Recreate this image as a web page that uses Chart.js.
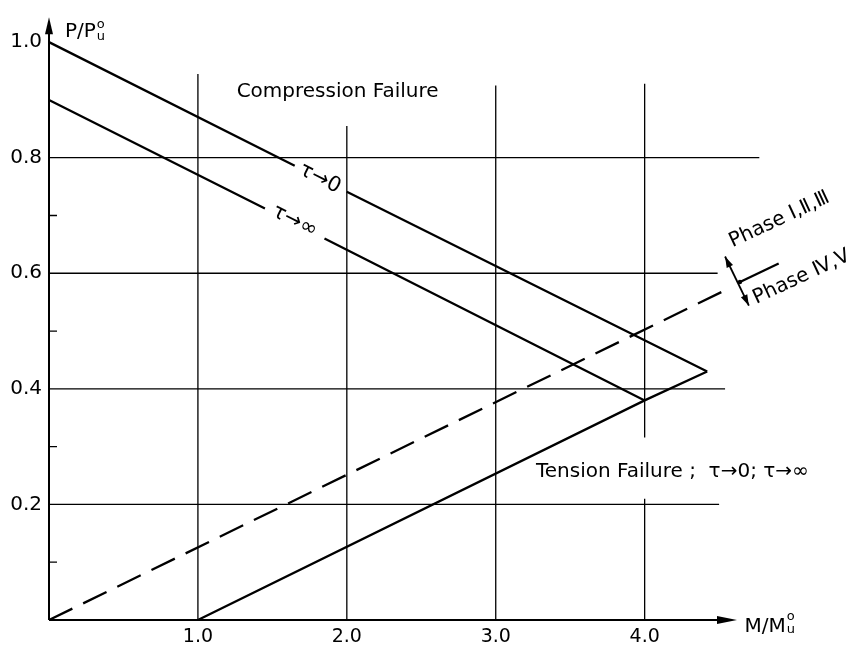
<!DOCTYPE html>
<html>
<head>
<meta charset="utf-8">
<script src="https://cdn.jsdelivr.net/npm/chart.js@4/dist/chart.umd.min.js"></script>
<style>
  html, body { margin: 0; padding: 0; background: #fff; }
</style>
</head>
<body>
<canvas id="chart" width="861" height="647"></canvas>
<script>
// Interaction diagram P/Pu vs M/Mu
const xTicks = [1, 2, 3, 4];
const yTicks = [0.2, 0.4, 0.6, 0.8, 1.0];
const yMinorTicks = [0.1, 0.3, 0.5, 0.7];

// tau -> 0 line (broken where its label sits)
const tauZeroX = [0, 1.65, 1.82, 2.0, 4.42];
const tauZeroY = [1.0, 0.786, null, 0.741, 0.43];
// tau -> infinity line
const tauInfX = [0, 1.45, 1.65, 1.85, 4.0];
const tauInfY = [0.9, 0.712, null, 0.66, 0.38];
// tension failure line
const tensionX = [1.0, 4.0, 4.42];
const tensionY = [0, 0.38, 0.43];
// phase boundary, dashed part and solid end
const phaseX = [0, 4.56];
const phaseY = [0, 0.573];
const phaseEndX = [4.64, 4.9];
const phaseEndY = [0.585, 0.617];
// double arrow across the phase boundary
const phaseArrowX = [4.54, 4.70];
const phaseArrowY = [0.629, 0.544];

// hand drawn grid: [x, yFrom, yTo] and [y, xFrom, xTo]
const vGrid = [[1, 0, 0.945], [2, 0, 0.855], [3, 0, 0.925], [4, 0, 0.21], [4, 0.316, 0.928]];
const hGrid = [[0.2, 0, 4.5], [0.4, 0, 4.54], [0.6, 0, 4.49], [0.8, 0, 4.77]];

const ink = '#000';

function pts(xs, ys) {
  return xs.map((v, i) => ({ x: v, y: ys[i] }));
}

function line(xs, ys, dash) {
  return {
    data: pts(xs, ys),
    showLine: true,
    borderColor: ink,
    borderWidth: 2.3,
    borderDash: dash || [],
    pointRadius: 0,
    spanGaps: false,
    clip: false
  };
}

function text(ctx, str, px, py, angle, size, align, base) {
  ctx.save();
  ctx.translate(px, py);
  ctx.rotate(angle * Math.PI / 180);
  ctx.font = size + 'px "DejaVu Sans"';
  ctx.textAlign = align;
  ctx.textBaseline = base;
  ctx.fillStyle = ink;
  ctx.fillText(str, 0, 0);
  ctx.restore();
}

function arrowHead(ctx, tx, ty, fx, fy, len, half) {
  const a = Math.atan2(ty - fy, tx - fx);
  ctx.beginPath();
  ctx.moveTo(tx, ty);
  ctx.lineTo(tx - len * Math.cos(a) + half * Math.sin(a), ty - len * Math.sin(a) - half * Math.cos(a));
  ctx.lineTo(tx - len * Math.cos(a) - half * Math.sin(a), ty - len * Math.sin(a) + half * Math.cos(a));
  ctx.closePath();
  ctx.fill();
}

const drawing = {
  id: 'drawing',
  beforeDatasetsDraw(chart) {
    const { ctx, scales: { x, y } } = chart;
    ctx.save();
    ctx.strokeStyle = ink;
    ctx.lineWidth = 1.3;
    ctx.beginPath();
    vGrid.forEach(g => {
      const px = x.getPixelForValue(g[0]);
      ctx.moveTo(px, y.getPixelForValue(g[1]));
      ctx.lineTo(px, y.getPixelForValue(g[2]));
    });
    hGrid.forEach(g => {
      const py = y.getPixelForValue(g[0]);
      ctx.moveTo(x.getPixelForValue(g[1]), py);
      ctx.lineTo(x.getPixelForValue(g[2]), py);
    });
    ctx.stroke();
    ctx.restore();
  },
  afterDraw(chart) {
    const { ctx, scales: { x, y } } = chart;
    const x0 = x.getPixelForValue(0), y0 = y.getPixelForValue(0);
    ctx.save();
    ctx.strokeStyle = ink;
    ctx.fillStyle = ink;
    ctx.lineWidth = 2;

    // axes with arrows
    const yTip = y.getPixelForValue(1.043);
    const xTip = x.getPixelForValue(4.62);
    ctx.beginPath();
    ctx.moveTo(x0, y0);
    ctx.lineTo(x0, yTip + 10);
    ctx.moveTo(x0, y0);
    ctx.lineTo(xTip - 12, y0);
    ctx.stroke();
    arrowHead(ctx, x0, yTip, x0, y0, 17, 4);
    arrowHead(ctx, xTip, y0, x0, y0, 20, 4);

    // minor ticks on the y axis
    ctx.lineWidth = 1.3;
    ctx.beginPath();
    yMinorTicks.forEach(v => {
      const py = y.getPixelForValue(v);
      ctx.moveTo(x0, py);
      ctx.lineTo(x0 + 8, py);
    });
    ctx.stroke();

    // double arrow across phase boundary
    const ax1 = x.getPixelForValue(phaseArrowX[0]), ay1 = y.getPixelForValue(phaseArrowY[0]);
    const ax2 = x.getPixelForValue(phaseArrowX[1]), ay2 = y.getPixelForValue(phaseArrowY[1]);
    ctx.lineWidth = 1.8;
    ctx.beginPath();
    ctx.moveTo(ax1, ay1);
    ctx.lineTo(ax2, ay2);
    ctx.stroke();
    arrowHead(ctx, ax1, ay1, ax2, ay2, 11, 3.5);
    arrowHead(ctx, ax2, ay2, ax1, ay1, 11, 3.5);
    ctx.beginPath();
    ctx.arc(x.getPixelForValue(phaseEndX[0]), y.getPixelForValue(phaseEndY[0]), 2.2, 0, Math.PI * 2);
    ctx.fill();
    ctx.restore();

    // axis titles
    const P = (vx, vy) => [x.getPixelForValue(vx), y.getPixelForValue(vy)];
    let [tx, ty] = P(0.107, 1.009);
    ctx.font = '20px "DejaVu Sans"';
    text(ctx, 'P/P', tx, ty, 0, 20, 'left', 'alphabetic');
    let w = ctx.measureText('P/P').width;
    text(ctx, 'o', tx + w + 1, ty - 9, 0, 13, 'left', 'alphabetic');
    text(ctx, 'u', tx + w + 1, ty + 3, 0, 13, 'left', 'alphabetic');

    [tx, ty] = P(4.67, -0.02);
    text(ctx, 'M/M', tx, ty, 0, 20, 'left', 'alphabetic');
    w = ctx.measureText('M/M').width;
    text(ctx, 'o', tx + w + 1, ty - 12, 0, 13, 'left', 'alphabetic');
    text(ctx, 'u', tx + w + 1, ty + 1, 0, 13, 'left', 'alphabetic');

    // region and curve labels
    [tx, ty] = P(1.26, 0.914);
    text(ctx, 'Compression Failure', tx, ty, 0, 20, 'left', 'middle');
    [tx, ty] = P(3.27, 0.256);
    text(ctx, 'Tension Failure ;  τ→0; τ→∞', tx, ty, 0, 20, 'left', 'middle');
    [tx, ty] = P(1.82, 0.764);
    text(ctx, 'τ→0', tx, ty, 27, 21, 'center', 'middle');
    [tx, ty] = P(1.65, 0.69);
    text(ctx, 'τ→∞', tx, ty, 27, 21, 'center', 'middle');
    [tx, ty] = P(4.59, 0.645);
    text(ctx, 'Phase Ⅰ,Ⅱ,Ⅲ', tx, ty, -25, 20, 'left', 'alphabetic');
    [tx, ty] = P(4.75, 0.547);
    text(ctx, 'Phase Ⅳ,Ⅴ', tx, ty, -25, 20, 'left', 'alphabetic');
  }
};

Chart.defaults.font.family = '"DejaVu Sans"';
Chart.defaults.color = ink;

new Chart(document.getElementById('chart'), {
  type: 'scatter',
  data: {
    datasets: [
      line(tauZeroX, tauZeroY),
      line(tauInfX, tauInfY),
      line(tensionX, tensionY),
      line(phaseX, phaseY, [26, 12]),
      line(phaseEndX, phaseEndY)
    ]
  },
  options: {
    responsive: false,
    animation: false,
    devicePixelRatio: 1,
    layout: { padding: { top: 12, right: 127, left: 0, bottom: 0 } },
    plugins: { legend: { display: false }, tooltip: { enabled: false } },
    scales: {
      x: {
        type: 'linear', min: 0, max: 4.6,
        grid: { display: false, drawTicks: false },
        border: { display: false },
        afterBuildTicks: s => { s.ticks = xTicks.map(v => ({ value: v })); },
        afterFit: s => { s.height = 27; },
        ticks: { font: { size: 19 }, padding: 6, maxRotation: 0, autoSkip: false,
                 callback: v => Number(v).toFixed(1) }
      },
      y: {
        type: 'linear', min: 0, max: 1.04,
        grid: { display: false, drawTicks: false },
        border: { display: false },
        afterBuildTicks: s => { s.ticks = yTicks.map(v => ({ value: v })); },
        afterFit: s => { s.width = 49; },
        ticks: { font: { size: 20 }, padding: 7, autoSkip: false,
                 callback: v => Number(v).toFixed(1) }
      }
    }
  },
  plugins: [drawing]
});
</script>
</body>
</html>
